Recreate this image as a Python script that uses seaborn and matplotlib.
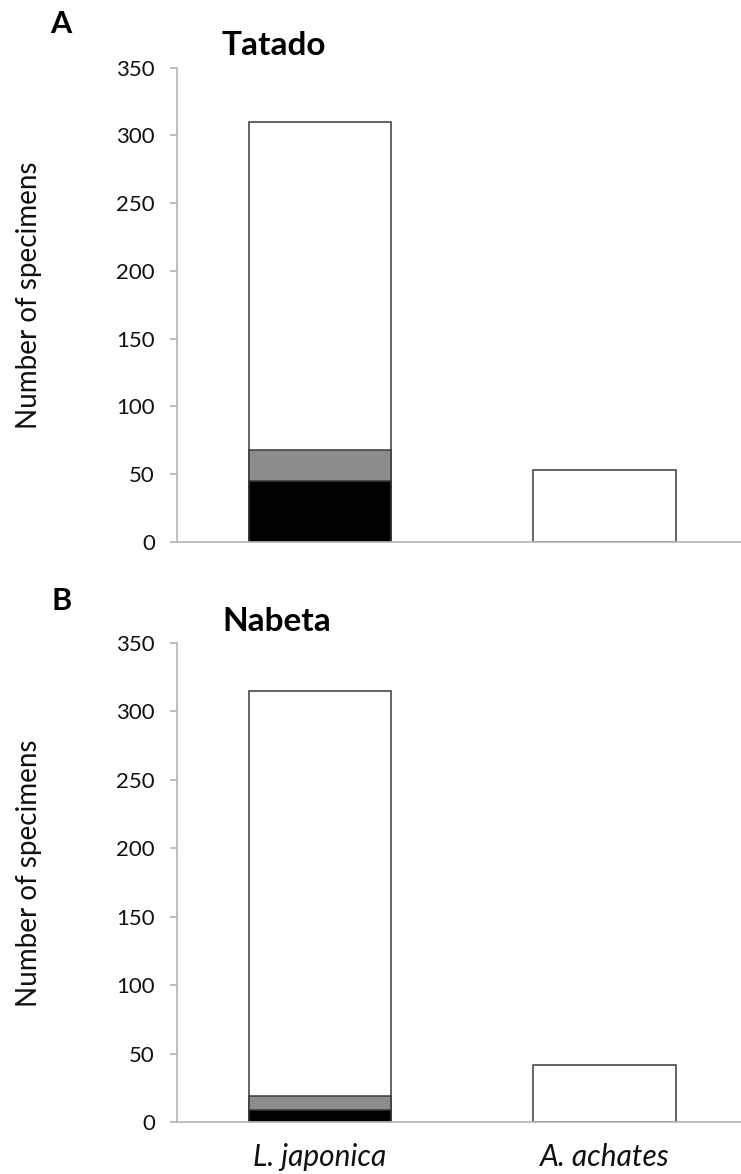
import numpy as np
import pandas as pd
import matplotlib
matplotlib.use("Agg")
import matplotlib.pyplot as plt
import seaborn as sns

# Specimen counts per species, split into three stacked groups (bottom -> top)
species = ["L. japonica", "A. achates"]
sites = ["Tatado", "Nabeta"]
panel_letters = ["A", "B"]

tatado_black = [45, 0]
tatado_gray = [23, 0]
tatado_white = [242, 53]

nabeta_black = [9, 0]
nabeta_gray = [10, 0]
nabeta_white = [296, 42]

yticks = [0, 50, 100, 150, 200, 250, 300, 350]

sns.set_theme(style="white")
plt.rcParams["font.family"] = ["Lato", "DejaVu Sans"]

W, H = 741, 1174
fig = plt.figure(figsize=(W / 100, H / 100), dpi=100)

# axes boxes in pixel coordinates: (left, top, right, bottom)
boxes = [(177, 67.7, 741, 541.7), (177, 642.7, 741, 1122.3)]
segments = [
    (tatado_black, tatado_gray, tatado_white),
    (nabeta_black, nabeta_gray, nabeta_white),
]
label_pos = [((50, 33), (222, 55)), ((52, 610), (222, 631))]

edge = "#3a3a3a"
spine_col = "#b5b5b5"
text_col = "#111111"

for i, (box, segs) in enumerate(zip(boxes, segments)):
    l, t, r, b = box
    ax = fig.add_axes([l / W, 1 - b / H, (r - l) / W, (b - t) / H])
    black, gray, white = (np.array(s) for s in segs)
    df = pd.DataFrame({
        "species": species,
        "c1": black,
        "c2": black + gray,
        "c3": black + gray + white,
    })
    # draw cumulative totals back-to-front so they appear stacked
    for col, fc in [("c3", "white"), ("c2", "#8c8c8c"), ("c1", "black")]:
        sns.barplot(data=df, x="species", y=col, color=fc, width=0.5,
                    edgecolor=edge, linewidth=1.1, saturation=1, ax=ax,
                    order=species)
    # zero-height segments are not drawn
    for p in ax.patches:
        if p.get_height() == 0:
            p.set_visible(False)

    ax.set_xlim(-0.503, 1.48)
    ax.set_ylim(0, 350)
    ax.set_yticks(yticks)
    ax.set_yticklabels([str(v) for v in yticks], fontsize=16, color=text_col)
    ax.set_ylabel("Number of specimens", fontsize=20, color=text_col)
    ax.yaxis.set_label_coords((42 - l) / (r - l), 0.52)
    ax.set_xlabel("")
    sns.despine(ax=ax)
    for s in ("left", "bottom"):
        ax.spines[s].set_color(spine_col)
        ax.spines[s].set_linewidth(1.2)
    ax.tick_params(axis="y", which="major", left=True, length=5, width=1.2,
                   color=spine_col, direction="out", pad=11)
    ax.tick_params(axis="x", bottom=False, length=0)
    if i == 0:
        ax.set_xticklabels([])
    else:
        ax.set_xticks(range(len(species)))
        ax.set_xticklabels(species, fontsize=21.5, style="italic", color=text_col)
        ax.tick_params(axis="x", pad=15)

    (lx, ly), (tx, ty) = label_pos[i]
    fig.text(lx / W, 1 - ly / H, panel_letters[i], fontsize=22, fontweight="bold",
             ha="left", va="baseline", color="black")
    fig.text(tx / W, 1 - ty / H, sites[i], fontsize=24, fontweight="bold",
             ha="left", va="baseline", color="black")

fig.savefig("out.png", dpi=100, facecolor="white")
